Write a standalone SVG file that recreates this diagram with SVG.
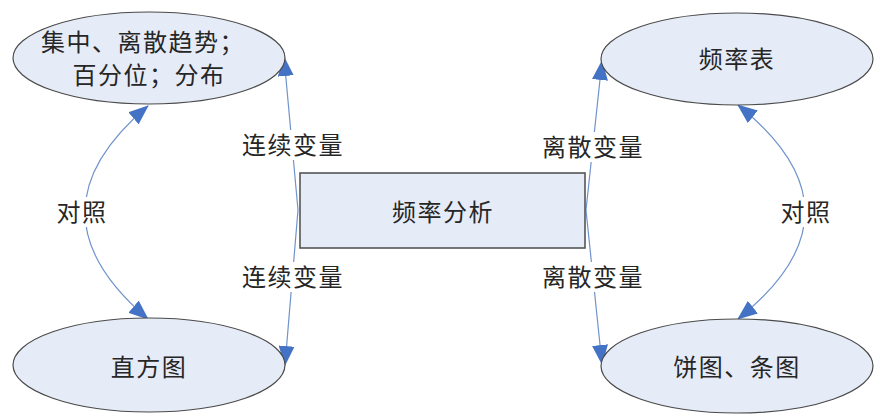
<svg xmlns="http://www.w3.org/2000/svg" width="881" height="419" viewBox="0 0 881 419">
<defs>
<style>
.node{fill:#e6ecf7;stroke:#4a4a4a;stroke-width:1.2}
.box{fill:#e6ecf7;stroke:#555;stroke-width:1.6}
.t{font-family:"Liberation Serif","Noto Sans CJK SC",serif;font-size:24px;letter-spacing:1.5px;fill:#262626;text-anchor:middle}
.c{fill:none;stroke:#6f93cc;stroke-width:1.2}
.lbl{fill:#fff}
</style>
<marker id="ah" viewBox="0 0 20 16" refX="19" refY="8" markerWidth="20" markerHeight="16" markerUnits="userSpaceOnUse" orient="auto-start-reverse">
<path d="M0,0 L20,8 L0,16 Z" fill="#4472c4"/>
</marker>
</defs>
<rect width="881" height="419" fill="#fff"/>
<g id="connectors">
<path class="c" d="M298,210 L284,57" marker-end="url(#ah)"/>
<path class="c" d="M298,210 L285,365" marker-end="url(#ah)"/>
<path class="c" d="M586,210 L602,61" marker-end="url(#ah)"/>
<path class="c" d="M586,210 L602,364" marker-end="url(#ah)"/>
<path class="c" d="M148,106 Q22,212 148,319" marker-start="url(#ah)" marker-end="url(#ah)"/>
<path class="c" d="M738,105 Q872,212 738,319" marker-start="url(#ah)" marker-end="url(#ah)"/>
<rect class="lbl" x="237" y="130" width="110" height="30"/>
<text class="t" x="293" y="154">连续变量</text>
<rect class="lbl" x="237" y="262" width="110" height="30"/>
<text class="t" x="293" y="286">连续变量</text>
<rect class="lbl" x="537" y="132" width="110" height="30"/>
<text class="t" x="593" y="156">离散变量</text>
<rect class="lbl" x="537" y="262" width="110" height="30"/>
<text class="t" x="593" y="286">离散变量</text>
<rect class="lbl" x="51" y="197" width="60" height="30"/>
<text class="t" x="82" y="221">对照</text>
<rect class="lbl" x="775" y="197" width="60" height="30"/>
<text class="t" x="806" y="221">对照</text>
</g>
<g id="center">
<rect class="box" x="300" y="173" width="285" height="75"/>
<text class="t" x="443" y="221">频率分析</text>
</g>
<g id="stats">
<ellipse class="node" cx="149" cy="58" rx="136" ry="46"/>
<text class="t" x="143" y="51">集中、离散趋势；</text>
<text class="t" x="149" y="84">百分位；分布</text>
</g>
<g id="histogram">
<ellipse class="node" cx="149" cy="365" rx="136" ry="47"/>
<text class="t" x="149" y="376">直方图</text>
</g>
<g id="freqtable">
<ellipse class="node" cx="737" cy="59" rx="136" ry="46"/>
<text class="t" x="737" y="68">频率表</text>
</g>
<g id="charts">
<ellipse class="node" cx="737" cy="366" rx="136" ry="47"/>
<text class="t" x="737" y="376">饼图、条图</text>
</g>
</svg>
